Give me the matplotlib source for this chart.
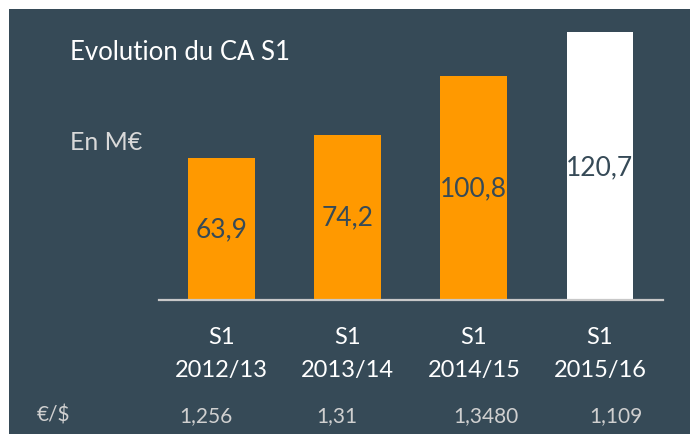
import matplotlib
matplotlib.use("Agg")
import matplotlib.pyplot as plt
from matplotlib.patches import Rectangle

# Data
period_top = ["S1", "S1", "S1", "S1"]
period_years = ["2012/13", "2013/14", "2014/15", "2015/16"]
values = [63.9, 74.2, 100.8, 120.7]
value_labels = ["63,9", "74,2", "100,8", "120,7"]
fx_rates = ["1,256", "1,31", "1,3480", "1,109"]
bar_colors = ["#FF9900", "#FF9900", "#FF9900", "#FFFFFF"]

BG = "#364A57"
W, H = 690, 434
plt.rcParams['font.family'] = ['Lato', 'DejaVu Sans']

fig = plt.figure(figsize=(W / 100, H / 100), dpi=100, facecolor="white")

def fx(px):
    return px / W

def fy(py):
    return 1 - py / H

# dark panel
fig.patches.append(Rectangle((fx(9), 0), 1 - fx(9), fy(9), transform=fig.transFigure,
                             facecolor=BG, edgecolor="none", zorder=-10))

# axes: x from 158.6 to 663 px, y from 300 (baseline) up, 2.22 px / unit
ax_left, ax_right = 158.6, 663
ax_bottom = 300
ymax = 130
ax_h = 2.22 * ymax
ax = fig.add_axes([fx(ax_left), fy(ax_bottom), fx(ax_right - ax_left), ax_h / H])
ax.set_facecolor("none")
ax.set_zorder(5)
x = list(range(len(values)))
ax.bar(x, values, width=0.53, color=bar_colors, zorder=2)
ax.set_xlim(-0.5, 3.5)
ax.set_ylim(0, ymax)
for s in ["top", "right", "left"]:
    ax.spines[s].set_visible(False)
ax.spines["bottom"].set_color("#C8C8C8")
ax.spines["bottom"].set_linewidth(1.6)
ax.set_yticks([])
ax.set_xticks(x)
ax.set_xticklabels([])
ax.tick_params(axis="x", length=0)

# category labels (two lines) under bars
tr = ax.get_xaxis_transform()
for xi, top, yr in zip(x, period_top, period_years):
    ax.text(xi, -(337 - ax_bottom) / ax_h, top, transform=tr, ha="center", va="center",
            color="white", fontsize=17, clip_on=False)
    ax.text(xi, -(371 - ax_bottom) / ax_h, yr, transform=tr, ha="center", va="center",
            color="white", fontsize=17, clip_on=False)

# value labels inside bars
label_y = [230, 218, 189, 168]
for xi, lab, ly in zip(x, value_labels, label_y):
    yd = (ax_bottom - ly) / 2.22
    ax.text(xi, yd, lab, ha="center", va="center", color=BG, fontsize=19, zorder=3)

# title and unit
fig.text(fx(70), fy(52), "Evolution du CA S1", color="white", fontsize=18.5,
         ha="left", va="center")
fig.text(fx(70), fy(143), "En M€", color="#D9D9D9", fontsize=18,
         ha="left", va="center")

# fx rates row
fig.text(fx(53), fy(416), "€/$", color="#D0D0D0", fontsize=15, ha="center", va="center")
rate_x = [206, 337, 486, 616]
for rx, r in zip(rate_x, fx_rates):
    fig.text(fx(rx), fy(416), r, color="#D0D0D0", fontsize=15, ha="center", va="center")

fig.savefig("out.png", dpi=100, facecolor="white")
